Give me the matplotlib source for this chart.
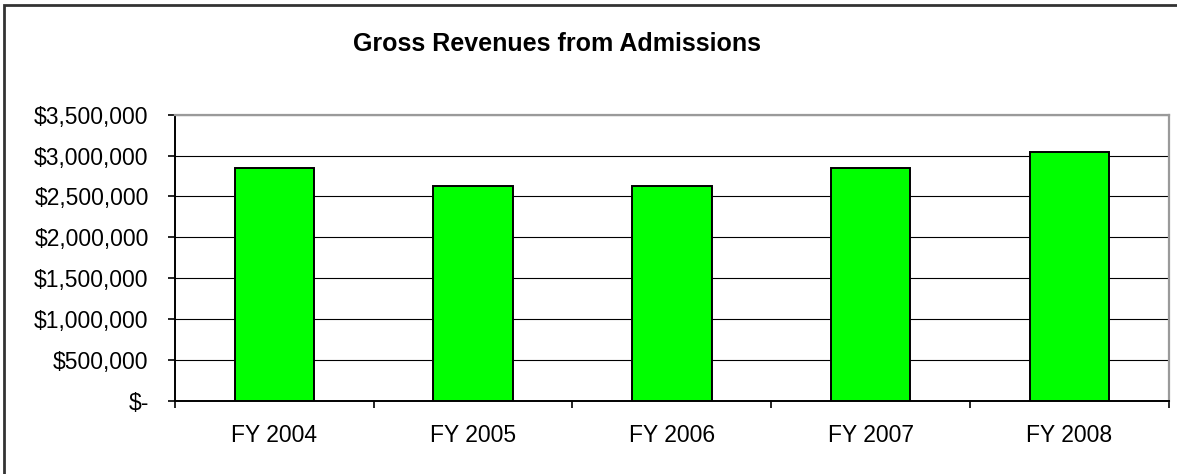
import matplotlib
matplotlib.use("Agg")
import matplotlib.pyplot as plt
from matplotlib.patches import Rectangle
from matplotlib.ticker import FuncFormatter, FixedLocator

years = ["FY 2004", "FY 2005", "FY 2006", "FY 2007", "FY 2008"]
revenues = [2845000, 2627000, 2627000, 2848000, 3047000]
y_ticks = [0, 500000, 1000000, 1500000, 2000000, 2500000, 3000000, 3500000]

plt.rcParams["font.family"] = ["Liberation Sans", "DejaVu Sans"]

W, H = 1177, 474
fig = plt.figure(figsize=(W / 100, H / 100), dpi=100)
ax = fig.add_axes([175 / W, 1 - 400.7 / H, (1168.7 - 175) / W, (400.7 - 114.7) / H])

x = list(range(len(years)))
ax.bar(x, revenues, width=0.4, color="#00ff00", edgecolor="black", linewidth=1.4, zorder=3)

ax.set_xlim(-0.5, len(years) - 0.5)
ax.set_ylim(0, 3500000)
ax.set_yticks(y_ticks)
ax.yaxis.set_major_formatter(FuncFormatter(lambda v, _: "$-" if v == 0 else f"${v:,.0f}"))
ax.grid(axis="y", color="black", linewidth=0.8, zorder=1)

# category labels at the bar centres, tick marks on the category boundaries
ax.set_xticks(x)
ax.set_xticklabels(years)
ax.xaxis.set_minor_locator(FixedLocator([i - 0.5 for i in range(len(years) + 1)]))
ax.tick_params(axis="x", which="major", length=0, pad=16.5, labelsize=16.5)
ax.tick_params(axis="x", which="minor", length=5, width=1.2, color="black")
ax.tick_params(axis="y", length=5, width=1.2, pad=14, labelsize=16.5)

for side in ["left", "bottom"]:
    ax.spines[side].set_color("black")
    ax.spines[side].set_linewidth(1.4)
for side in ["top", "right"]:
    ax.spines[side].set_color("#9a9a9a")
    ax.spines[side].set_linewidth(1.6)

fig.text(557 / W, 1 - 44 / H, "Gross Revenues from Admissions", ha="center", va="center",
         fontsize=18, fontweight="bold")

# chart frame
fig.patches.append(Rectangle((4 / W, -0.1), 1.2, 1.1 - 5 / H, transform=fig.transFigure,
                             fill=False, edgecolor="#333333", linewidth=2))

fig.savefig("out.png", dpi=100)
